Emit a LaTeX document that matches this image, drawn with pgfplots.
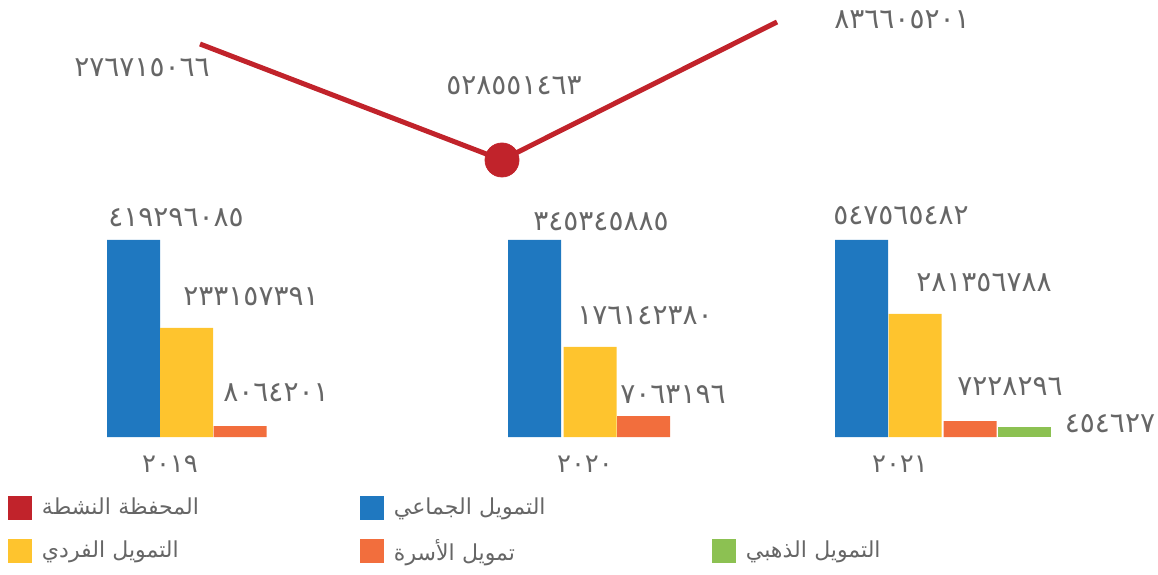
\documentclass[border=0pt]{standalone}
\usepackage{fontspec}
\usepackage{pgfplots}
\usepackage{pgfplotstable}
\pgfplotsset{compat=1.18}
\TeXXeTstate=1
\setmainfont{DejaVu Sans}
\newfontfamily\arabicfont[Script=Arabic]{DejaVu Sans}
\newfontfamily\digitfont{DejaVu Sans}
\definecolor{cblue}{HTML}{1F78C0}
\definecolor{cyellow}{HTML}{FEC42E}
\definecolor{corange}{HTML}{F26E3D}
\definecolor{cgreen}{HTML}{8CC152}
\definecolor{cred}{HTML}{C1232B}
\definecolor{ctext}{HTML}{666666}

% bar heights (picture units), x = bar centre
\pgfplotstableread{
x y
133.5 197
534.5 197
861.5 197
}\tabBlue
\pgfplotstableread{
x y
186.5 109
590 90
915 123
}\tabYellow
\pgfplotstableread{
x y
240 11
643.5 21
970 16
}\tabOrange
\pgfplotstableread{
x y
1024 10
}\tabGreen
\pgfplotstableread{
x y
200 393
502 277
777 415
}\tabActive
% value labels (Arabic-Indic digits, written left to right)
\pgfplotstableread{
x y lab
142 369 ٢٧٦٧١٥٠٦٦
514 351 ٥٢٨٥٥١٤٦٣
902 417 ٨٣٦٦٠٥٢٠١
176 219 ٤١٩٢٩٦٠٨٥
251 140 ٢٣٣١٥٧٣٩١
276 44 ٨٠٦٤٢٠١
601 215 ٣٤٥٣٤٥٨٨٥
645 121 ١٧٦١٤٢٣٨٠
673 42 ٧٠٦٣١٩٦
901 221 ٥٤٧٥٦٥٤٨٢
984 154 ٢٨١٣٥٦٧٨٨
1010 50 ٧٢٢٨٢٩٦
1110 13 ٤٥٤٦٢٧
}\tabLabels
\pgfplotstableread{
x y lab
170 -27 ٢٠١٩
585 -27 ٢٠٢٠
900 -27 ٢٠٢١
}\tabYears

\begin{document}
\begin{tikzpicture}
\begin{axis}[
  scale only axis,
  width=579pt, height=287pt,
  xmin=0, xmax=1158, ymin=-137, ymax=437,
  hide axis, clip=false,
  legend columns=3,
  legend image code/.code={\fill[#1,draw=none] (0pt,-6pt) rectangle (12pt,6pt);},
  legend style={
    draw=none, fill=none, inner sep=0pt, outer sep=0pt,
    at={(axis cs:8,-49.5)}, anchor=north west,
    column sep=0pt, row sep=0pt,
    /tikz/every odd column/.append style={column sep=5pt},
    cells={anchor=west},
    nodes={inner sep=0pt, text width=159pt, align=left, minimum height=21.5pt,
           font=\arabicfont\fontsize{11pt}{13pt}\selectfont, text=ctext},
  },
]
\addplot[ybar, bar width=53, bar shift=0pt, fill=cblue, draw=none, forget plot] table[x=x,y=y] {\tabBlue};
\addplot[ybar, bar width=53, bar shift=0pt, fill=cyellow, draw=none, forget plot] table[x=x,y=y] {\tabYellow};
\addplot[ybar, bar width=53, bar shift=0pt, fill=corange, draw=none, forget plot] table[x=x,y=y] {\tabOrange};
\addplot[ybar, bar width=53, bar shift=0pt, fill=cgreen, draw=none, forget plot] table[x=x,y=y] {\tabGreen};
\addplot[cred, line width=2.5pt, mark=none, forget plot] table[x=x,y=y] {\tabActive};
\addplot[only marks, mark=*, mark size=8.5pt, cred, forget plot] coordinates {(502,277)};
\addplot[draw=none, mark=none, forget plot,
  nodes near coords, nodes near coords align={center},
  point meta=explicit symbolic,
  every node near coord/.append style={anchor=center, inner sep=0pt,
    font=\digitfont\fontsize{14pt}{16pt}\selectfont, text=ctext}]
  table[x=x, y=y, meta=lab] {\tabLabels};
\addplot[draw=none, mark=none, forget plot,
  nodes near coords, nodes near coords align={center},
  point meta=explicit symbolic,
  every node near coord/.append style={anchor=center, inner sep=0pt,
    font=\digitfont\fontsize{13pt}{16pt}\selectfont, text=ctext}]
  table[x=x, y=y, meta=lab] {\tabYears};
\path (rel axis cs:0,0) rectangle (rel axis cs:1,1);
\addlegendimage{fill=cred}
\addlegendentry{\beginR المحفظة النشطة\endR}
\addlegendimage{fill=cblue}
\addlegendentry{\beginR التمويل الجماعي\endR}
\addlegendimage{empty legend}
\addlegendentry{}
\addlegendimage{fill=cyellow}
\addlegendentry{\beginR التمويل الفردي\endR}
\addlegendimage{fill=corange}
\addlegendentry{\beginR تمويل الأسرة\endR}
\addlegendimage{fill=cgreen}
\addlegendentry{\beginR التمويل الذهبي\endR}
\end{axis}
\end{tikzpicture}
\end{document}
